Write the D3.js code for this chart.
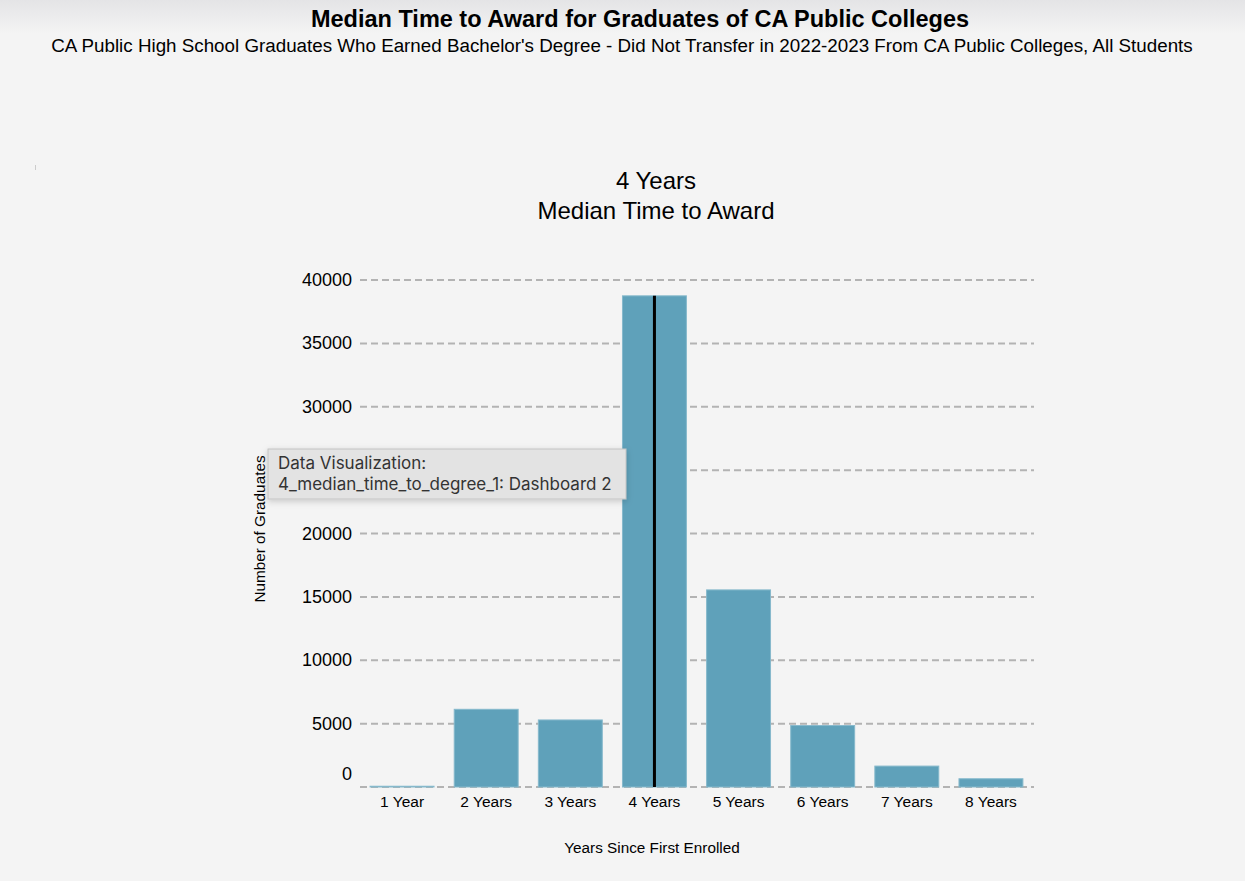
<!DOCTYPE html>
<html>
<head>
<meta charset="utf-8">
<style>
body {
   margin: 0;
   background: #f4f4f4;
   font-family: "Liberation Sans", Arial, sans-serif;
}
#chart {
   width: 1245px;
   height: 881px;
}
</style>
</head>
<body>
<div id="chart"></div>
<script src="https://d3js.org/d3.v7.min.js"></script>
<script>

// chart values
var categories = ["1 Year", "2 Years", "3 Years", "4 Years", "5 Years", "6 Years", "7 Years", "8 Years"];
var graduates = [60, 6130, 5290, 38750, 15550, 4850, 1650, 650];
var medianCategory = "4 Years";
var yTicks = [0, 5000, 10000, 15000, 20000, 25000, 30000, 35000, 40000];

var W = 1245, H = 881;
var margin = {top: 280, right: 212, bottom: 94, left: 360},
    width = W - margin.left - margin.right,
    height = H - margin.top - margin.bottom;

var x = d3.scaleBand().domain(categories).range([0, width]).paddingInner(0.24).paddingOuter(0.12);
var y = d3.scaleLinear().domain([0, 40000]).range([height, 0]);

var svg = d3.select("#chart").append("svg")
    .attr("width", W)
    .attr("height", H);

// header band with a soft gradient
var defs = svg.append("defs");
var grad = defs.append("linearGradient").attr("id", "hdr").attr("x1", 0).attr("x2", 0).attr("y1", 0).attr("y2", 1);
grad.append("stop").attr("offset", "0%").attr("stop-color", "#e4e4e6");
grad.append("stop").attr("offset", "100%").attr("stop-color", "#f4f4f4");
svg.append("rect").attr("width", W).attr("height", 34).attr("fill", "url(#hdr)");

var shadow = defs.append("filter").attr("id", "shadow").attr("x", "-10%").attr("y", "-30%").attr("width", "120%").attr("height", "160%");
shadow.append("feDropShadow").attr("dx", 0).attr("dy", 2).attr("stdDeviation", 3).attr("flood-color", "#000").attr("flood-opacity", 0.18);

svg.append("text")
    .attr("x", 640).attr("y", 27)
    .attr("text-anchor", "middle")
    .style("font-size", "23.5px").style("font-weight", "bold")
    .text("Median Time to Award for Graduates of CA Public Colleges");
svg.append("text")
    .attr("x", 622).attr("y", 52)
    .attr("text-anchor", "middle")
    .style("font-size", "18.8px")
    .text("CA Public High School Graduates Who Earned Bachelor's Degree - Did Not Transfer in 2022-2023 From CA Public Colleges, All Students");

// small stray mark on the left
svg.append("rect").attr("x", 35).attr("y", 165).attr("width", 1).attr("height", 5).attr("fill", "#ccc");

// chart title
svg.append("text")
    .attr("x", 656).attr("y", 189)
    .attr("text-anchor", "middle")
    .style("font-size", "24px")
    .text(medianCategory);
svg.append("text")
    .attr("x", 656).attr("y", 219)
    .attr("text-anchor", "middle")
    .style("font-size", "24px")
    .text("Median Time to Award");

var g = svg.append("g")
    .attr("transform", "translate(" + margin.left + "," + margin.top + ")");

// gridlines
g.selectAll(".grid")
    .data(yTicks)
  .enter().append("line")
    .attr("x1", 0).attr("x2", width + 1)
    .attr("y1", function(d) { return y(d); })
    .attr("y2", function(d) { return y(d); })
    .attr("stroke", "#b3b3b3")
    .attr("stroke-width", 2)
    .attr("stroke-dasharray", "7,4");

// y tick labels
g.selectAll(".ylab")
    .data(yTicks)
  .enter().append("text")
    .attr("x", -8)
    .attr("y", function(d) { return y(d) + (d === 0 ? -7 : 6); })
    .attr("text-anchor", "end")
    .style("font-size", "18px")
    .text(function(d) { return d; });

// bars
g.selectAll(".bar")
    .data(categories)
  .enter().append("rect")
    .attr("x", function(d) { return x(d); })
    .attr("width", x.bandwidth())
    .attr("y", function(d, i) { return y(graduates[i]); })
    .attr("height", function(d, i) { return height - y(graduates[i]); })
    .attr("fill", "#5fa1ba")
    .attr("stroke", "#86b9cc")
    .attr("stroke-width", 1);

// median line
var mi = categories.indexOf(medianCategory);
g.append("line")
    .attr("x1", x(medianCategory) + x.bandwidth() / 2)
    .attr("x2", x(medianCategory) + x.bandwidth() / 2)
    .attr("y1", y(graduates[mi]))
    .attr("y2", y(0))
    .attr("stroke", "#000")
    .attr("stroke-width", 3);

// x axis labels
g.selectAll(".xlab")
    .data(categories)
  .enter().append("text")
    .attr("x", function(d) { return x(d) + x.bandwidth() / 2; })
    .attr("y", height + 20)
    .attr("text-anchor", "middle")
    .style("font-size", "15.5px")
    .text(function(d) { return d; });

// axis titles
svg.append("text")
    .attr("x", 652).attr("y", 853)
    .attr("text-anchor", "middle")
    .style("font-size", "15.3px")
    .text("Years Since First Enrolled");
svg.append("text")
    .attr("transform", "translate(265,529) rotate(-90)")
    .attr("text-anchor", "middle")
    .style("font-size", "15.3px")
    .text("Number of Graduates");

// tooltip box
var tip = svg.append("g").attr("transform", "translate(268,449)");
tip.append("rect")
    .attr("width", 358).attr("height", 50)
    .attr("fill", "#e3e3e3")
    .attr("stroke", "#c4c4c4")
    .attr("filter", "url(#shadow)");
tip.append("text").attr("x", 10).attr("y", 20)
    .style("font-size", "17px").style("fill", "#333")
    .style("font-family", "Inter, 'Noto Sans', sans-serif")
    .text("Data Visualization:");
tip.append("text").attr("x", 10).attr("y", 41)
    .style("font-size", "17px").style("fill", "#333")
    .style("font-family", "Inter, 'Noto Sans', sans-serif")
    .text("4_median_time_to_degree_1: Dashboard 2");

</script>
</body>
</html>
